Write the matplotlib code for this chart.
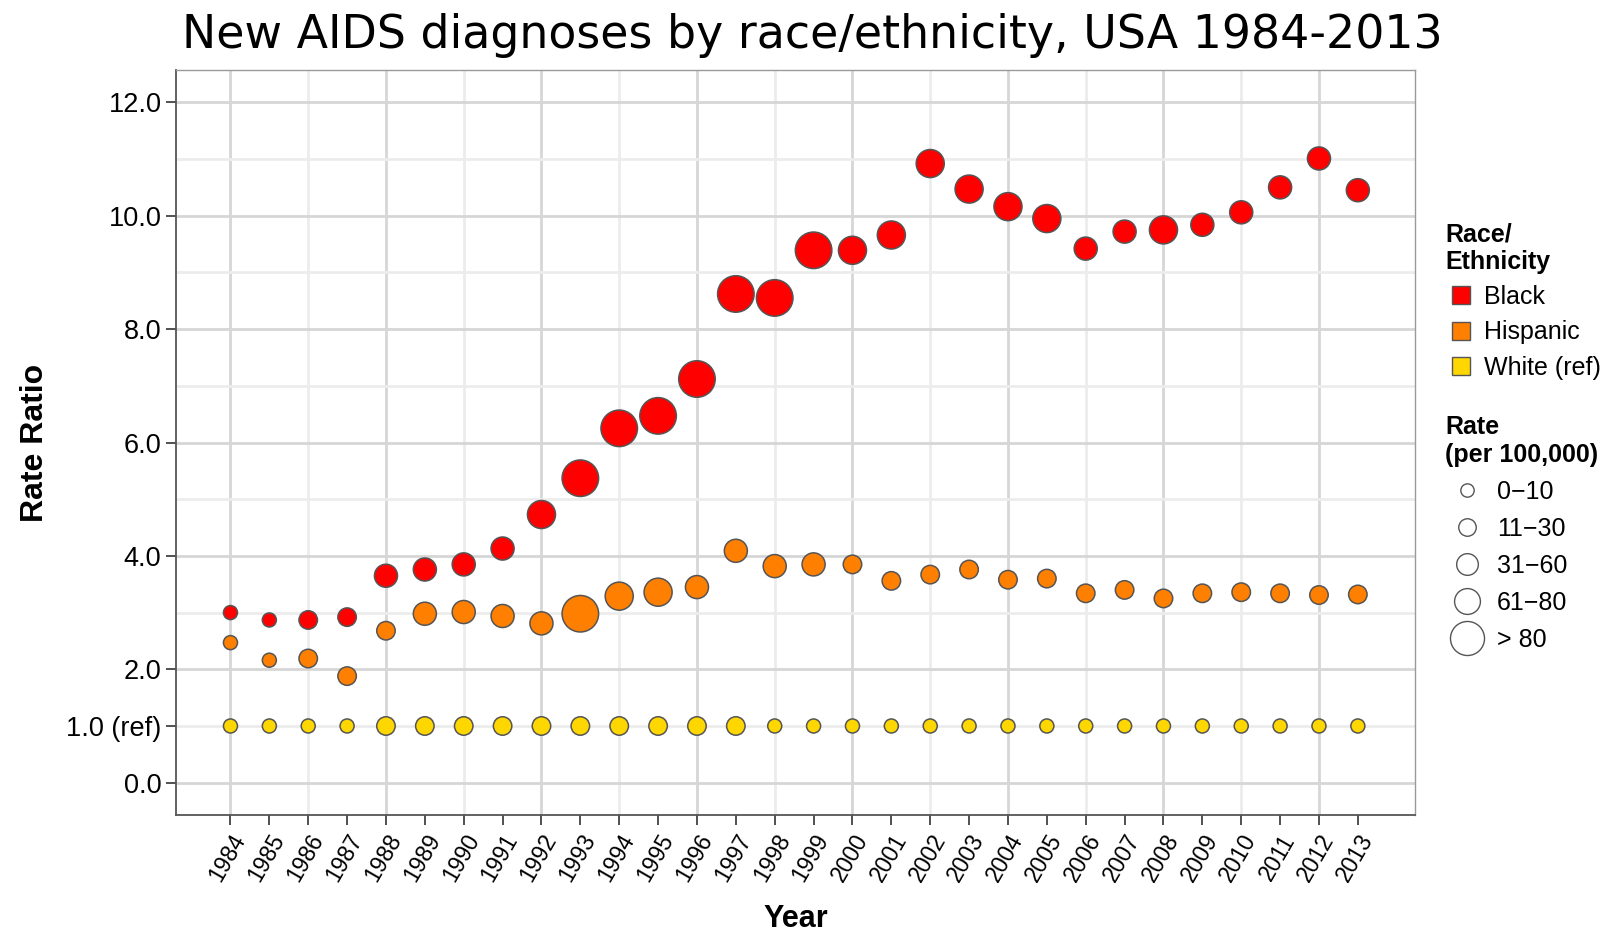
#!/usr/bin/env python3
"""New AIDS diagnoses rate ratio by race/ethnicity, bubble size = rate bin."""
import matplotlib
matplotlib.use('Agg')
import matplotlib.pyplot as plt
from matplotlib.lines import Line2D

years = list(range(1984, 2014))

black_ratio = [3.00, 2.87, 2.87, 2.92, 3.65, 3.76, 3.85, 4.13, 4.73, 5.37,
               6.25, 6.47, 7.12, 8.62, 8.55, 9.39, 9.39, 9.66, 10.92, 10.47,
               10.16, 9.95, 9.42, 9.72, 9.75, 9.84, 10.06, 10.50, 11.01, 10.45]
hispanic_ratio = [2.47, 2.16, 2.19, 1.88, 2.68, 2.98, 3.01, 2.94, 2.81, 2.98,
                  3.29, 3.36, 3.45, 4.09, 3.82, 3.85, 3.85, 3.56, 3.67, 3.76,
                  3.58, 3.60, 3.34, 3.40, 3.25, 3.34, 3.36, 3.34, 3.31, 3.32]
white_ratio = [1.0] * 30

# rate bin index per year (0: 0-10, 1: 11-30, 2: 31-60, 3: 61-80, 4: >80)
black_bin = [0, 0, 1, 1, 2, 2, 2, 2, 3, 4, 4, 4, 4, 4, 4, 4,
             3, 3, 3, 3, 3, 3, 2, 2, 3, 2, 2, 2, 2, 2]
hispanic_bin = [0, 0, 1, 1, 1, 2, 2, 2, 2, 4, 3, 3, 2, 2, 2, 2,
                1, 1, 1, 1, 1, 1, 1, 1, 1, 1, 1, 1, 1, 1]
white_bin = [0, 0, 0, 0, 1, 1, 1, 1, 1, 1, 1, 1, 1, 1, 0, 0,
             0, 0, 0, 0, 0, 0, 0, 0, 0, 0, 0, 0, 0, 0]

groups = ["Black", "Hispanic", "White (ref)"]
rate_labels = ["0\u221210", "11\u221230", "31\u221260", "61\u221280", "> 80"]

y_ticks = [0, 1, 2, 4, 6, 8, 10, 12]
y_tick_labels = ["0.0", "1.0 (ref)", "2.0", "4.0", "6.0", "8.0", "10.0", "12.0"]

colors = {"Black": "#FF0000", "Hispanic": "#FF7F00", "White (ref)": "#FFD700"}
edge = "#555555"
bin_diam_pt = [10.1, 13.3, 16.6, 20.2, 26.3]
legend_diam_pt = [9.6, 12.6, 15.6, 18.6, 24.5]

plt.rcParams['font.family'] = ['Liberation Sans', 'DejaVu Sans']

fig = plt.figure(figsize=(16.24, 9.31), dpi=100)
ax = fig.add_axes([0.1084, 0.1246, 0.7629, 0.8002])

# grid: darker every 4 years / every 2 units, lighter in between
for yr in range(1984, 2014, 2):
    c = "#d6d6d6" if (yr - 1984) % 4 == 0 else "#ececec"
    ax.axvline(yr, color=c, lw=2, zorder=0)
for v in range(0, 13):
    c = "#d6d6d6" if v % 2 == 0 else "#ececec"
    ax.axhline(v, color=c, lw=2, zorder=0)

series = [("White (ref)", white_ratio, white_bin),
          ("Hispanic", hispanic_ratio, hispanic_bin),
          ("Black", black_ratio, black_bin)]
for name, vals, bins in series:
    sizes = [bin_diam_pt[b] ** 2 for b in bins]
    ax.scatter(years, vals, s=sizes, c=colors[name], edgecolors=edge,
               linewidths=1.1, zorder=3)

ax.set_xlim(1982.6, 2014.47)
ax.set_ylim(-0.57, 12.57)
ax.set_xticks(years)
ax.set_xticklabels([str(y) for y in years], rotation=60, ha='right',
                   rotation_mode='anchor', fontsize=16.5)
ax.set_yticks(y_ticks)
ax.set_yticklabels(y_tick_labels, fontsize=19.5)
ax.tick_params(axis='both', length=7, width=1.2, color='#333333', direction='out')
ax.tick_params(axis='x', pad=4)

for side in ['left', 'bottom']:
    ax.spines[side].set_color('#555555')
    ax.spines[side].set_linewidth(1.3)
for side in ['top', 'right']:
    ax.spines[side].set_color('#9a9a9a')
    ax.spines[side].set_linewidth(1.0)

ax.set_xlabel("Year", fontsize=22, fontweight='bold', labelpad=13)
ax.set_ylabel("Rate Ratio", fontsize=23, fontweight='bold', labelpad=12)

fig.text(0.5, 1 - 48 / 931, "New AIDS diagnoses by race/ethnicity, USA 1984-2013",
         ha='center', va='baseline', fontsize=33, family='DejaVu Sans')

# legends
race_handles = [Line2D([], [], marker='s', ls='', markersize=13.5,
                       markerfacecolor=colors[g], markeredgecolor=edge,
                       markeredgewidth=1.0) for g in groups]
leg1 = fig.legend(race_handles, groups, title="Race/\nEthnicity",
                  loc='upper left', bbox_to_anchor=(1445 / 1624, 1 - 222 / 931),
                  frameon=False, fontsize=18, labelspacing=0.45,
                  handlelength=1.28, handletextpad=0.3, borderpad=0,
                  borderaxespad=0, alignment='left',
                  title_fontproperties={'weight': 'bold', 'size': 18})

size_handles = [Line2D([], [], marker='o', ls='', markersize=d,
                       markerfacecolor='white', markeredgecolor=edge,
                       markeredgewidth=1.0) for d in legend_diam_pt]
leg2 = fig.legend(size_handles, rate_labels, title="Rate\n(per 100,000)",
                  loc='upper left', bbox_to_anchor=(1445 / 1624, 1 - 415 / 931),
                  frameon=False, fontsize=18, labelspacing=0.52,
                  handlelength=1.76, handletextpad=0.32, borderpad=0,
                  borderaxespad=0, alignment='left',
                  title_fontproperties={'weight': 'bold', 'size': 18})

fig.savefig("out.png", dpi=100)
